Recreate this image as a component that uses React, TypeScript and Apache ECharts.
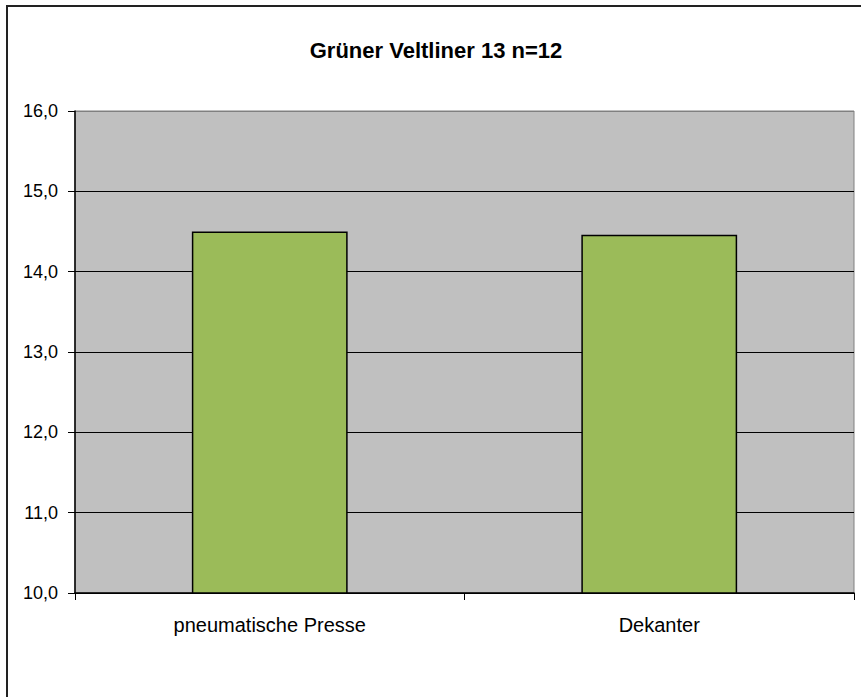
import React, { useEffect, useRef } from "react";
import * as echarts from "echarts";

const categories = ["pneumatische Presse", "Dekanter"];
const values = [14.5, 14.46];
const titleText = "Grüner Veltliner 13 n=12";

export default function App() {
  const ref = useRef<HTMLDivElement>(null);
  useEffect(() => {
    if (!ref.current) return;
    const chart = echarts.init(ref.current, null, { renderer: "svg" });
    const font = "'Liberation Sans', Arial, sans-serif";
    chart.setOption({
      animation: false,
      backgroundColor: "#ffffff",
      title: {
        text: titleText,
        left: 431,
        top: 34,
        textAlign: "center",
        textStyle: { fontFamily: font, fontWeight: "bold", fontSize: 22, color: "#000" },
      },
      graphic: [
        {
          type: "rect",
          shape: { x: 7, y: 6, width: 900, height: 800 },
          style: { fill: "none", stroke: "#222", lineWidth: 2 },
          silent: true,
        },
      ],
      grid: {
        left: 75,
        right: 7,
        top: 111,
        bottom: 104,
        show: true,
        backgroundColor: "#C0C0C0",
        borderColor: "#808080",
        borderWidth: 1,
      },
      xAxis: {
        type: "category",
        data: categories,
        axisLine: { show: true, lineStyle: { color: "#000", width: 1.5 } },
        axisTick: { show: true, length: 7, lineStyle: { color: "#000" } },
        axisLabel: { margin: 22, fontFamily: font, fontSize: 20, color: "#000" },
      },
      yAxis: {
        type: "value",
        min: 10,
        max: 16,
        interval: 1,
        axisLine: { show: true, lineStyle: { color: "#000", width: 1.5 } },
        axisTick: { show: true, length: 7, lineStyle: { color: "#000" } },
        axisLabel: {
          margin: 17,
          fontFamily: font,
          fontSize: 18,
          color: "#000",
          formatter: (v: number) => v.toFixed(1).replace(".", ","),
        },
        splitLine: {
          show: true,
          lineStyle: { color: ["#000", "#000", "#000", "#000", "#000", "#000", "#808080"], width: 1 },
        },
      },
      series: [
        {
          type: "bar",
          data: values,
          barWidth: "40%",
          itemStyle: { color: "#9BBB59", borderColor: "#000", borderWidth: 1.5 },
        },
      ],
    });
    return () => chart.dispose();
  }, []);
  return (
    <div
      ref={ref}
      style={{ position: "absolute", left: 0, top: 0, width: 861, height: 697 }}
    />
  );
}
